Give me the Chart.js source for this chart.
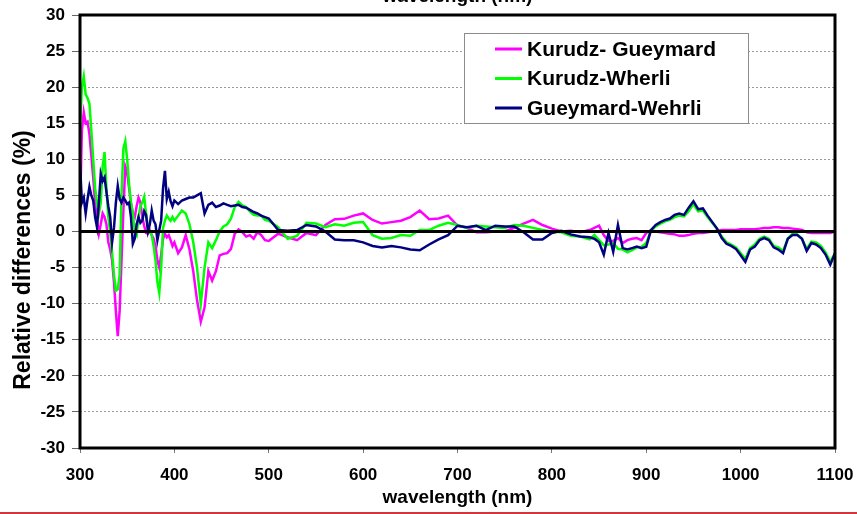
<!DOCTYPE html>
<html>
<head>
<meta charset="utf-8">
<script src="https://cdn.jsdelivr.net/npm/chart.js@4.4.1/dist/chart.umd.min.js"></script>
<style>
  html, body { margin: 0; padding: 0; background: #fff; }
  #wrap { width: 857px; height: 514px; }
</style>
</head>
<body>
<div id="wrap"><canvas id="chart" width="857" height="514"></canvas></div>
<script>
// --- data ---
const steps = (from, to, by) => {
    const out = [];
    for (let v = from; v <= to; v += by) out.push(v);
    return out;
};
// sampling is denser in the noisy UV part
const wavelengths = [
    ...steps(300, 400, 2),
    ...steps(404, 500, 4),
    ...steps(510, 840, 10),
    ...steps(845, 1100, 5)
];

const kurudzGueymard = [
    // 300-400 (2 nm)
    3, 14, 16.5, 15, 15.2, 13.5, 10.5, 7.5, 4, 1.5,
    -0.3, 1, 2.5, 2, 1, -1.5, -2.5, -4, -7, -11,
    -14.5, -11, -4, 3, 9, 8.2, 6, 4, 2.5, 2,
    3.5, 4.7, 4, 2, 0.8, -0.2, -0.3, 0.2, -0.5, -1,
    -2, -4, -5, -3.2, -1, -0.3, -0.8, -0.5, -1.2, -2, -1.5,
    // 404-500 (4 nm)
    -3, -2.2, -0.5, -2.5, -5.5, -9.5, -12.5, -10.5, -5.5, -6.8,
    -5.5, -3.3, -3.1, -3, -2.4, -0.3, 0.3, -0.1, -0.7, -0.5,
    -1, -0.1, -0.5, -1.2, -1.3,
    // 510-840 (10 nm)
    -0.3, -0.8, -1.2, -0.2, -0.5, 0.9, 1.7, 1.75, 2.2, 2.5,
    1.6, 1.1, 1.3, 1.5, 2, 2.9, 1.7, 1.8, 2.2, 0.8,
    0.5, -0.1, -0.1, 0, 0, 0.5, 1.1, 1.6, 0.9, 0.4,
    0, 0.1, -0.1, 0.2,
    // 845-1100 (5 nm)
    0.5, 0.8, -0.5, -1.3, -1.3, -0.9, -1.6, -1.2, -1, -0.9,
    -1.2, -0.2, 0.2, 0, -0.1, -0.2, -0.3, -0.4, -0.6, -0.6,
    -0.5, -0.3, -0.2, -0.2, -0.1, 0, 0.1, 0.2, 0.2, 0.2,
    0.2, 0.3, 0.3, 0.3, 0.3, 0.4, 0.5, 0.5, 0.6, 0.6,
    0.5, 0.5, 0.4, 0.3, 0.2, -0.1, -0.2, -0.2, -0.2, -0.2,
    -0.2, 0
];

const kurudzWherli = [
    14, 20, 21.5, 19, 18.5, 17.7, 14, 10, 6, 4,
    2.5, 4, 9, 11, 6, 2, 0, -3, -6, -8.2,
    -8, -6, 5, 11.5, 12.5, 10, 6.5, 4, 2.5, 0,
    -0.5, 2, 3.5, 4, 4.8, 2.5, 0.6, 0, -0.5, -2,
    -4, -7, -8.5, -5, 0.5, 1.5, 2.2, 1.8, 1.5, 2, 1.5,
    2.2, 2.9, 2.5, 1, -1.5, -5, -10, -5, -1.5, -2.3,
    -1.2, 0, 0.7, 1, 1.8, 3.4, 4.1, 3.6, 3.4, 2.8,
    2.3, 2.2, 2.2, 1.6, 1.5,
    0.6, -1, -0.6, 1.2, 1.1, 0.6, 1, 0.8, 1.2, 1.3,
    -0.5, -1, -0.9, -0.5, -0.6, 0.2, 0.2, 0.8, 1.2, 0.9,
    0.5, 0.8, 0.7, 0.6, 0.5, 0.9, 0.8, 0.5, 0.2, 0,
    -0.1, -0.6, -0.7, -1.1,
    -0.5, -1.2, -1.9, -1.8, -1.6, -2.4, -2.5, -2.9, -2.6, -2.2,
    -2.1, -1.6, 0.1, 0.7, 1.1, 1.4, 1.6, 2, 2.2, 2.1,
    2.8, 3.8, 2.8, 2.9, 2, 1.2, 0.4, -0.7, -1.5, -1.8,
    -2.2, -3, -3.8, -2.3, -1.8, -1, -0.7, -1, -2, -2.2,
    -2.7, -1, -0.3, -0.4, -1, -2.4, -1.4, -1.5, -2, -2.9,
    -4.2, -3
];

const gueymardWehrli = [
    9.5, 4, 4.7, 2.5, 4.5, 6.2, 5, 4.3, 2, 0.6,
    4, 8, 7, 7.5, 5.5, 3.5, 2, -1.5, 0.5, 4,
    6.3, 4.5, 4, 4.7, 4.3, 3.8, 4, 2, -1.7, -1,
    1, 2, 1.2, 1.5, 2.8, 2.3, 0, 1, 2.9, 1.5,
    1, -1.2, 0.2, 1.5, 6, 8.4, 4.5, 5.5, 4.2, 3.5, 4.3,
    3.8, 4.3, 4.5, 4.7, 4.7, 5, 5.3, 2.5, 3.7, 4,
    3.4, 3.6, 3.9, 3.7, 3.5, 3.6, 3.7, 3.4, 3.3, 3,
    2.7, 2.5, 2.2, 2, 1.8,
    0.2, 0.1, 0.2, 0.9, 0.7, 0, -1.1, -1.2, -1.2, -1.5,
    -2, -2.2, -2, -2.2, -2.5, -2.6, -1.8, -1.1, -0.5, 0.8,
    0.6, 0.8, 0.2, 0.8, 0.7, 0.7, -0.1, -1.1, -1.1, -0.2,
    0.1, -0.4, -0.7, -0.8,
    -1, -1.5, -3.2, -0.2, -2.8, 0.9, -2.3, -2.5, -2.3, -2.1,
    -2.3, -2.1, 0.2, 0.9, 1.3, 1.6, 1.8, 2.3, 2.5, 2.3,
    3.3, 4.2, 3.1, 3.2, 2.2, 1.3, 0.4, -0.9, -1.7, -2,
    -2.4, -3.3, -4.2, -2.5, -2.1, -1.2, -0.9, -1.2, -2.2, -2.5,
    -3, -1, -0.5, -0.5, -1, -2.7, -1.6, -1.8, -2.3, -3.2,
    -4.6, -3
];

const seriesNames = ['Kurudz- Gueymard', 'Kurudz-Wherli', 'Gueymard-Wehrli'];
const seriesColors = ['#ff00ff', '#00ff00', '#000080'];
const xTitle = 'wavelength (nm)';
const yTitle = 'Relative differences (%)';

const FONT = '"Liberation Sans", Arial, sans-serif';

const toPoints = (vals) => vals.map((v, i) => ({ x: wavelengths[i], y: v }));

// frame, zero line, titles, legend box
const decorations = {
    id: 'decorations',
    afterDatasetsDraw(chart) {
        const { ctx, chartArea: a, scales } = chart;
        ctx.save();
        const y0 = scales.y.getPixelForValue(0);
        ctx.strokeStyle = '#000';
        ctx.lineWidth = 3;
        ctx.beginPath();
        ctx.moveTo(a.left, y0);
        ctx.lineTo(a.right, y0);
        ctx.stroke();
        ctx.strokeRect(a.left, a.top, a.right - a.left, a.bottom - a.top);
        ctx.restore();
    },
    afterDraw(chart) {
        const { ctx, chartArea: a } = chart;
        const cx = (a.left + a.right) / 2;
        ctx.save();
        ctx.fillStyle = '#000';
        ctx.font = 'bold 19px ' + FONT;
        ctx.textAlign = 'center';
        ctx.textBaseline = 'alphabetic';
        ctx.fillText(xTitle, cx, 503);
        ctx.fillText(xTitle, cx, 2);   // cut-off caption at the top edge

        ctx.save();
        ctx.translate(30, 260);
        ctx.rotate(-Math.PI / 2);
        ctx.font = 'bold 23px ' + FONT;
        ctx.fillText(yTitle, 0, 0);
        ctx.restore();

        // legend
        const lx = 464, ly = 33, lw = 284, lh = 90;
        ctx.fillStyle = '#fff';
        ctx.fillRect(lx, ly, lw, lh);
        ctx.strokeStyle = '#8c8c8c';
        ctx.lineWidth = 1;
        ctx.strokeRect(lx + 0.5, ly + 0.5, lw, lh);
        ctx.font = 'bold 21px ' + FONT;
        ctx.textAlign = 'left';
        ctx.textBaseline = 'middle';
        chart.data.datasets.forEach((ds, i) => {
            const ry = 49 + i * 29.5;
            ctx.strokeStyle = ds.borderColor;
            ctx.lineWidth = 3;
            ctx.beginPath();
            ctx.moveTo(495, ry);
            ctx.lineTo(522, ry);
            ctx.stroke();
            ctx.fillStyle = '#000';
            ctx.fillText(ds.label, 527, ry + 1);
        });

        // red rule along the bottom
        ctx.fillStyle = '#d4343c';
        ctx.fillRect(0, 512, chart.width, 2);
        ctx.restore();
    }
};

new Chart(document.getElementById('chart'), {
    type: 'line',
    data: {
        datasets: [kurudzGueymard, kurudzWherli, gueymardWehrli].map((vals, i) => ({
            label: seriesNames[i],
            data: toPoints(vals),
            borderColor: seriesColors[i],
            borderWidth: 2.5,
            pointRadius: 0,
            tension: 0,
            order: 3 - i
        }))
    },
    options: {
        responsive: false,
        animation: false,
        layout: { padding: { top: 15, right: 22, left: 0, bottom: 0 } },
        plugins: { legend: { display: false }, tooltip: { enabled: false } },
        scales: {
            x: {
                type: 'linear', min: 300, max: 1100,
                afterFit: (s) => { s.height = 66; s.paddingLeft = 0; s.paddingRight = 0; },
                ticks: {
                    stepSize: 100, color: '#000', padding: 12,
                    font: { family: FONT, size: 17, weight: 'bold' },
                    callback: (v) => String(v)
                },
                grid: { drawOnChartArea: false, tickLength: 5, tickColor: '#777' },
                border: { display: false }
            },
            y: {
                min: -30, max: 30,
                afterFit: (s) => { s.width = 80; s.paddingTop = 0; s.paddingBottom = 0; },
                ticks: {
                    stepSize: 5, color: '#000', padding: 7,
                    font: { family: FONT, size: 17, weight: 'bold' },
                    callback: (v) => String(v)
                },
                grid: {
                    color: (c) => (c.tick && (c.tick.value === 0 || Math.abs(c.tick.value) === 30)) ? 'rgba(0,0,0,0)' : '#9a9a9a',
                    lineWidth: 1,
                    tickLength: 8,
                    tickColor: '#666',
                    tickBorderDash: []
                },
                border: { display: false, dash: [2, 2] }
            }
        }
    },
    plugins: [decorations]
});
</script>
</body>
</html>
